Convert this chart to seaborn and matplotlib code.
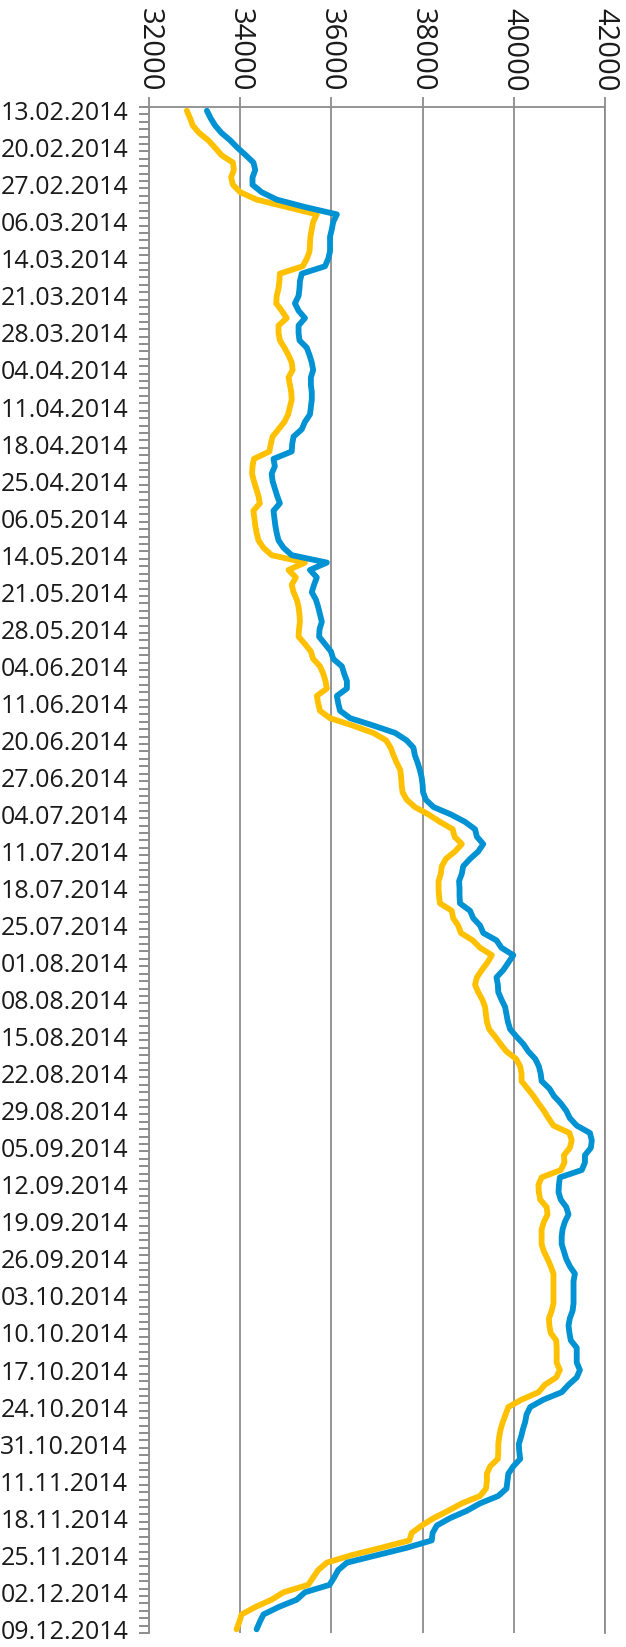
import numpy as np
import pandas as pd
import matplotlib.pyplot as plt
import seaborn as sns

# Подписи по оси дат (каждый 5-й торговый день)
dates = [
    "13.02.2014", "20.02.2014", "27.02.2014", "06.03.2014", "14.03.2014", "21.03.2014",
    "28.03.2014", "04.04.2014", "11.04.2014", "18.04.2014", "25.04.2014", "06.05.2014",
    "14.05.2014", "21.05.2014", "28.05.2014", "04.06.2014", "11.06.2014", "20.06.2014",
    "27.06.2014", "04.07.2014", "11.07.2014", "18.07.2014", "25.07.2014", "01.08.2014",
    "08.08.2014", "15.08.2014", "22.08.2014", "29.08.2014", "05.09.2014", "12.09.2014",
    "19.09.2014", "26.09.2014", "03.10.2014", "10.10.2014", "17.10.2014", "24.10.2014",
    "31.10.2014", "11.11.2014", "18.11.2014", "25.11.2014", "02.12.2014", "09.12.2014",
]

# Синий ряд, значения по торговым дням
blue = [
    33270, 33350, 33450, 33590, 33780, 33940, 34120, 34290, 34330, 34270,
    34270, 34470, 34800, 35420, 36120, 36040, 36010, 35970, 35970, 35970,
    35930, 35860, 35350, 35310, 35300, 35280, 35200, 35280, 35420, 35280,
    35280, 35300, 35460, 35520, 35570, 35600, 35550, 35550, 35570, 35570,
    35550, 35530, 35420, 35350, 35170, 35140, 35130, 34730, 34760, 34690,
    34710, 34760, 34810, 34870, 34730, 34750, 34770, 34800, 34840, 34950,
    35130, 35900, 35530, 35680, 35620, 35570, 35660, 35710, 35750, 35790,
    35740, 35730, 35860, 35990, 36040, 36230, 36280, 36340, 36340, 36120,
    36150, 36190, 36410, 36920, 37400, 37650, 37800, 37830, 37890, 37940,
    37980, 38000, 38010, 38070, 38240, 38620, 38930, 39150, 39190, 39330,
    39220, 39040, 38890, 38860, 38800, 38810, 38810, 38820, 39040, 39110,
    39260, 39330, 39620, 39730, 39990, 39880, 39770, 39620, 39650, 39660,
    39730, 39810, 39840, 39870, 39920, 40060, 40210, 40320, 40470, 40550,
    40590, 40610, 40780, 40880, 41030, 41150, 41230, 41380, 41670, 41710,
    41690, 41560, 41560, 41490, 41010, 40990, 40980, 41030, 41150, 41200,
    41120, 41070, 41050, 41050, 41100, 41150, 41230, 41340, 41310, 41310,
    41310, 41310, 41290, 41230, 41200, 41220, 41250, 41380, 41380, 41380,
    41450, 41380, 41200, 41050, 40650, 40360, 40280, 40250, 40200, 40160,
    40110, 40120, 40140, 39990, 39880, 39860, 39840, 39660, 39260, 38970,
    38600, 38310, 38220, 38200, 37650, 36990, 36340, 36150, 36060, 35960,
    35420, 35240, 34840, 34510, 34430, 34360,
]

# Жёлтый ряд
yellow = [
    32830, 32900, 32960, 33100, 33300, 33450, 33590, 33840, 33860, 33800,
    33840, 34000, 34360, 35020, 35680, 35600, 35570, 35540, 35530, 35520,
    35460, 35370, 34870, 34860, 34840, 34800, 34790, 34910, 35020, 34840,
    34840, 34870, 34970, 35060, 35130, 35150, 35060, 35090, 35120, 35130,
    35090, 35050, 34970, 34840, 34710, 34670, 34640, 34300, 34270, 34260,
    34300, 34350, 34400, 34430, 34290, 34310, 34330, 34360, 34400, 34510,
    34690, 35420, 35060, 35220, 35130, 35170, 35240, 35280, 35300, 35310,
    35290, 35280, 35420, 35550, 35600, 35750, 35820, 35870, 35900, 35680,
    35710, 35750, 35970, 36470, 36920, 37200, 37300, 37360, 37430, 37510,
    37530, 37540, 37560, 37650, 37830, 38130, 38380, 38660, 38700, 38860,
    38710, 38510, 38420, 38400, 38350, 38350, 38360, 38380, 38640, 38670,
    38780, 38840, 39100, 39260, 39520, 39420, 39300, 39190, 39150, 39220,
    39310, 39370, 39390, 39410, 39460, 39590, 39710, 39840, 40050, 40140,
    40170, 40170, 40300, 40430, 40540, 40660, 40760, 40870, 41220, 41270,
    41230, 41100, 41110, 41030, 40610, 40540, 40550, 40580, 40720, 40740,
    40660, 40610, 40610, 40610, 40660, 40740, 40810, 40870, 40870, 40870,
    40870, 40870, 40830, 40770, 40780, 40810, 40930, 40940, 40940, 40940,
    41010, 40930, 40680, 40540, 40170, 39880, 39820, 39760, 39710, 39680,
    39660, 39660, 39650, 39480, 39410, 39410, 39390, 39260, 38860, 38560,
    38240, 37980, 37760, 37710, 37090, 36440, 35900, 35710, 35600, 35490,
    34950, 34690, 34330, 34030, 33980, 33920,
]

df = pd.DataFrame({
    "day": list(range(len(blue))) + list(range(len(yellow))),
    "value": blue + yellow,
    "series": ["ряд 1"] * len(blue) + ["ряд 2"] * len(yellow),
})

sns.set_style("white")
plt.rcParams["font.family"] = ["Open Sans", "DejaVu Sans"]

grey = "#8c8c8c"
fig = plt.figure(figsize=(6.26, 16.47), dpi=100)
ax = fig.add_axes([149 / 626, 14 / 1647, 456 / 626, 1526 / 1647])

sns.lineplot(
    data=df, x="value", y="day", hue="series", orient="y", sort=False,
    estimator=None, hue_order=["ряд 2", "ряд 1"],
    palette={"ряд 1": "#0092d2", "ряд 2": "#ffc000"},
    linewidth=4.2, solid_joinstyle="round", solid_capstyle="round",
    legend=False, ax=ax,
)

ax.set_xlim(32000, 42000)
ax.set_ylim(len(blue) - 0.5, -0.5)

ax.xaxis.tick_top()
ax.set_xticks(range(32000, 42001, 2000))
ax.set_xticklabels([str(v) for v in range(32000, 42001, 2000)], rotation=-90,
                   ha="center", va="bottom")
ax.tick_params(axis="x", which="major", direction="out", length=7, width=1.3,
               color=grey, pad=4, labelsize=21, labelcolor="#1a1a1a")

ax.set_yticks(range(0, len(blue), 5))
ax.set_yticklabels(dates)
ax.set_yticks(np.arange(-0.5, len(blue), 1), minor=True)
ax.tick_params(axis="y", which="major", length=0, pad=15, labelsize=18,
               labelcolor="#1a1a1a")
ax.tick_params(axis="y", which="minor", direction="out", length=7, width=1.4,
               color=grey, left=True)

ax.grid(axis="x", color=grey, linewidth=1.3)
ax.grid(axis="y", visible=False)
for side in ["top", "left", "right"]:
    ax.spines[side].set_color(grey)
    ax.spines[side].set_linewidth(1.3)
ax.spines["bottom"].set_visible(False)
ax.set_xlabel("")
ax.set_ylabel("")

plt.savefig("out.png", dpi=100)
plt.close()
